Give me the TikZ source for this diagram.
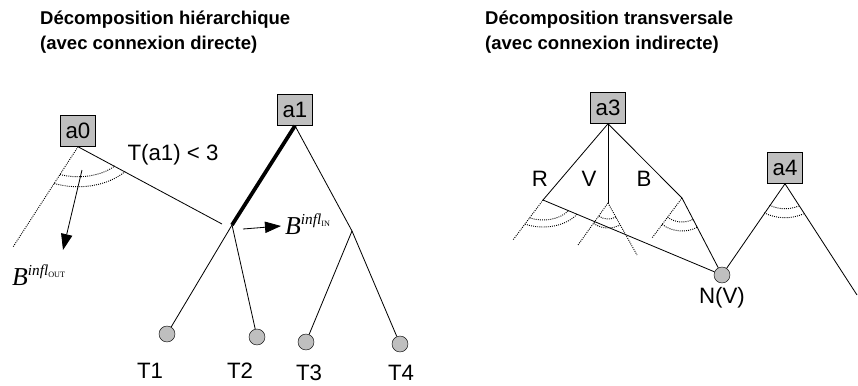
\documentclass[tikz,border=0pt]{standalone}
\usepackage{fontspec}
\setmainfont{Liberation Sans}
\newfontfamily\timesfont{Liberation Serif}
\usetikzlibrary{arrows.meta}
\tikzstyle{agent}=[draw,fill=black!25,minimum width=1.05cm,minimum height=0.93cm,inner sep=0pt,font=\fontsize{19}{21}\selectfont]
\tikzstyle{task}=[circle,draw,fill=black!25,minimum size=0.48cm,inner sep=0pt]
\tikzstyle{lbl}=[inner sep=0pt,font=\fontsize{19}{21}\selectfont]
\tikzstyle{title}=[inner sep=0pt,align=left,font=\bfseries\fontsize{15.8}{21}\selectfont]
\tikzstyle{edge}=[draw,line width=0.7pt]
\tikzstyle{bold edge}=[draw,line width=3.2pt]
\tikzstyle{limit}=[draw,densely dotted,line width=0.8pt]
\tikzstyle{inflarrow}=[draw,-{Triangle[length=0.48cm,width=0.34cm]},line width=0.7pt]
\newcommand{\Binfl}[1]{{\timesfont\itshape\fontsize{22}{22}\selectfont B\raisebox{8pt}{\fontsize{13}{13}\selectfont infl\raisebox{-2pt}{\upshape\fontsize{7}{7}\selectfont #1}}}}
% one dotted arc of an influence zone: apex, start, end, x radius, y radius
\newcommand{\zone}[5]{\path[limit] (#1) ++(#2:#4 and #5) arc[start angle=#2, end angle=#3, x radius=#4, y radius=#5];}

\begin{document}
\begin{tikzpicture}[x=0.03cm,y=-0.03cm]
    \useasboundingbox (0,0) rectangle (858,385);

    \node[title,anchor=north west] (h1) at (40,11) {Décomposition hiérarchique\\(avec connexion directe)};
    \node[title,anchor=north west] (h2) at (485,11) {Décomposition transversale\\(avec connexion indirecte)};

    % hierarchical decomposition
    \node[agent] (a0) at (78,131) {a0};
    \node[agent] (a1) at (295,110) {a1};
    \coordinate (e0) at (222,224);
    \coordinate (d0) at (13,247);
    \coordinate (j1) at (232,225);
    \coordinate (j2) at (352,231);
    \node[task] (T1) at (167,334) {};
    \node[task] (T2) at (257,337) {};
    \node[task] (T3) at (306,342) {};
    \node[task] (T4) at (400,344) {};
    \node[lbl] (lT1) at (150,371) {T1};
    \node[lbl] (lT2) at (240,371) {T2};
    \node[lbl] (lT3) at (309,373) {T3};
    \node[lbl] (lT4) at (401,373) {T4};

    \path[edge] (a0.south) -- (e0);
    \path[limit] (a0.south) -- (d0);
    \path[bold edge] (a1.south) -- (j1);
    \path[edge] (a1.south) -- (j2);
    \path[edge] (j1) -- (T1);
    \path[edge] (j1) -- (T2);
    \path[edge] (j2) -- (T3);
    \path[edge] (j2) -- (T4);

    \zone{a0.south}{-112}{-40}{1.44cm}{0.9cm}
    \zone{a0.south}{-113.3}{-38.3}{1.8cm}{1.2cm}

    \node[lbl] (cond) at (173,155) {T(a1) < 3};
    \coordinate (o1) at (82,170);
    \coordinate (o2) at (63,250);
    \path[inflarrow] (o1) -- (o2);
    \node[anchor=base west,inner sep=0pt] (bout) at (12,285) {\Binfl{OUT}};
    \coordinate (i1) at (243,229);
    \coordinate (i2) at (281,226);
    \path[inflarrow] (i1) -- (i2);
    \node[anchor=base west,inner sep=0pt] (bin) at (285,234) {\Binfl{IN}};

    % transversal decomposition
    \node[agent] (a3) at (608,108) {a3};
    \node[agent] (a4) at (785,168) {a4};
    \coordinate (r) at (543,200);
    \coordinate (v) at (608,203);
    \coordinate (b) at (682,198);
    \node[task] (nv) at (722,275) {};
    \coordinate (e4) at (857,295);
    \coordinate (dr) at (513,240);
    \coordinate (dv1) at (578,245);
    \coordinate (dv2) at (637,255);
    \coordinate (db) at (652,238);

    \path[edge] (a3.south) -- (r);
    \path[edge] (a3.south) -- (v);
    \path[edge] (a3.south) -- (b);
    \path[edge] (r) -- (nv);
    \path[edge] (b) -- (nv);
    \path[edge] (nv) -- (a4.south);
    \path[edge] (a4.south) -- (e4);
    \path[limit] (r) -- (dr);
    \path[limit] (v) -- (dv1);
    \path[limit] (v) -- (dv2);
    \path[limit] (b) -- (db);

    \zone{r}{-116.6}{-32.2}{0.9cm}{0.6cm}
    \zone{r}{-116.9}{-31.8}{1.2cm}{0.81cm}
    \zone{v}{-125}{-61}{0.48cm}{0.48cm}
    \zone{v}{-125}{-61}{0.75cm}{0.75cm}
    \zone{b}{-126.9}{-62.5}{0.72cm}{0.72cm}
    \zone{b}{-126.9}{-62.5}{0.99cm}{0.99cm}
    \zone{a4.south}{-120.9}{-62.9}{0.9cm}{0.75cm}
    \zone{a4.south}{-121.4}{-62.4}{1.2cm}{1.02cm}

    \node[lbl] (lR) at (540,179) {R};
    \node[lbl] (lV) at (589,179) {V};
    \node[lbl] (lB) at (644,179) {B};
    \node[lbl] (lnv) at (722,298) {N(V)};
\end{tikzpicture}
\end{document}
